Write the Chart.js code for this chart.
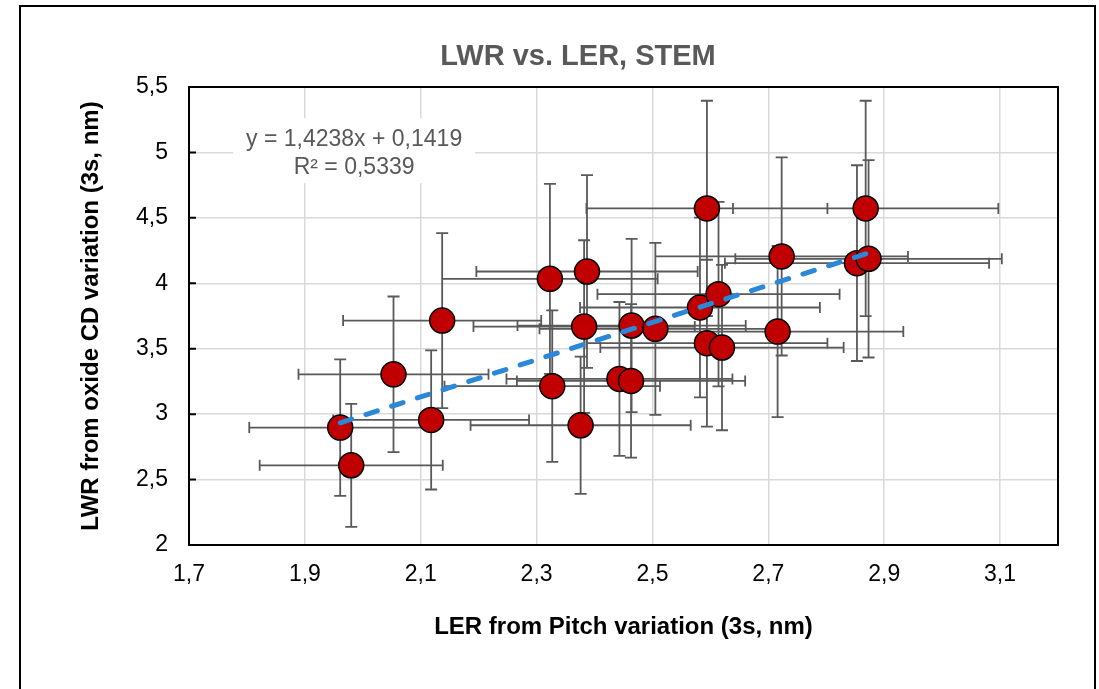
<!DOCTYPE html>
<html>
<head>
<meta charset="utf-8">
<title>LWR vs. LER, STEM</title>
<script src="https://cdn.jsdelivr.net/npm/chart.js@4.4.1/dist/chart.umd.min.js"></script>
<style>
    body { margin: 0; background: #fff; }
    #wrap { position: relative; width: 1099px; height: 689px; overflow: hidden; }
    #frame { position: absolute; left: 19px; top: 5px; width: 1077px; height: 720px; border: 2px solid #000; box-sizing: border-box; }
    canvas { position: absolute; left: 0; top: 0; }
</style>
</head>
<body>
<div id="wrap">
    <div id="frame"></div>
    <canvas id="myChart" width="1099" height="689"></canvas>
</div>
<script>
const ctx = document.getElementById('myChart');

// LER from pitch variation (x) and LWR from oxide CD variation (y), 3s, nm
const ler = [1.961, 1.980, 2.053, 2.118, 2.137, 2.323, 2.327, 2.376, 2.382, 2.387, 2.443, 2.463,
    2.464, 2.505, 2.582, 2.594, 2.594, 2.614, 2.620, 2.716, 2.723, 2.853, 2.868, 2.873];
const lwr = [2.897, 2.609, 3.304, 2.956, 3.715, 4.034, 3.214, 2.915, 3.669, 4.090, 3.269, 3.254,
    3.677, 3.652, 3.815, 4.572, 3.542, 3.917, 3.509, 3.631, 4.205, 4.154, 4.572, 4.187];
// error bar half lengths
const lerErr = [0.157, 0.158, 0.164, 0.169, 0.171, 0.186, 0.186, 0.190, 0.191, 0.191, 0.195, 0.197,
    0.197, 0.200, 0.207, 0.208, 0.208, 0.209, 0.210, 0.217, 0.218, 0.228, 0.229, 0.230];
const lwrErr = [0.521, 0.470, 0.595, 0.532, 0.669, 0.726, 0.579, 0.525, 0.660, 0.736, 0.588, 0.586,
    0.662, 0.657, 0.687, 0.823, 0.638, 0.705, 0.632, 0.654, 0.757, 0.748, 0.823, 0.754];

// linear trend end points
const trendX = [1.961, 2.873];
const trendY = [2.934, 4.232];
const fitText = ['y = 1,4238x + 0,1419', 'R² = 0,5339'];
const fitPos = [1.985, 5.017];

const xTicks = [1.7, 1.9, 2.1, 2.3, 2.5, 2.7, 2.9, 3.1];
const xTickLabels = ['1,7', '1,9', '2,1', '2,3', '2,5', '2,7', '2,9', '3,1'];
const yTicks = [2, 2.5, 3, 3.5, 4, 4.5, 5, 5.5];
const yTickLabels = ['2', '2,5', '3', '3,5', '4', '4,5', '5', '5,5'];

const FONT = '"Liberation Sans", Arial, sans-serif';
const GREY = '#595959';

const points = ler.map((v, i) => ({x: v, y: lwr[i]}));
const trend = trendX.map((v, i) => ({x: v, y: trendY[i]}));

const decor = {
    id: 'decor',
    beforeDatasetsDraw(chart) {
        const c = chart.ctx;
        const a = chart.chartArea;
        const sx = chart.scales.x, sy = chart.scales.y;
        c.save();

        // label of the fit, white box over the grid
        const cx = sx.getPixelForValue(fitPos[0]);
        const cy = sy.getPixelForValue(fitPos[1]);
        c.fillStyle = '#fff';
        c.fillRect(cx - 121, cy - 32, 242, 65);
        c.fillStyle = GREY;
        c.font = '23px ' + FONT;
        c.textAlign = 'center';
        c.textBaseline = 'alphabetic';
        c.fillText(fitText[0], cx, cy - 4.5);
        c.fillText(fitText[1], cx, cy + 23.5);

        // plot border + inside ticks on y
        c.strokeStyle = '#000';
        c.lineWidth = 2;
        c.strokeRect(a.left, a.top, a.right - a.left, a.bottom - a.top);
        c.beginPath();
        yTicks.forEach(v => {
            const py = sy.getPixelForValue(v);
            c.moveTo(a.left, py);
            c.lineTo(a.left + 7, py);
        });
        c.stroke();

        // error bars
        c.strokeStyle = GREY;
        c.lineWidth = 1.8;
        c.beginPath();
        ler.forEach((v, i) => {
            const px = sx.getPixelForValue(v);
            const py = sy.getPixelForValue(lwr[i]);
            const x0 = sx.getPixelForValue(v - lerErr[i]);
            const x1 = sx.getPixelForValue(v + lerErr[i]);
            const y0 = sy.getPixelForValue(lwr[i] - lwrErr[i]);
            const y1 = sy.getPixelForValue(lwr[i] + lwrErr[i]);
            c.moveTo(x0, py); c.lineTo(x1, py);
            c.moveTo(x0, py - 5.5); c.lineTo(x0, py + 5.5);
            c.moveTo(x1, py - 5.5); c.lineTo(x1, py + 5.5);
            c.moveTo(px, y0); c.lineTo(px, y1);
            c.moveTo(px - 6, y0); c.lineTo(px + 6, y0);
            c.moveTo(px - 6, y1); c.lineTo(px + 6, y1);
        });
        c.stroke();
        c.restore();
    },
    afterDraw(chart) {
        const c = chart.ctx;
        c.save();
        c.fillStyle = GREY;
        c.font = 'bold 29px ' + FONT;
        c.textAlign = 'center';
        c.textBaseline = 'alphabetic';
        c.fillText('LWR vs. LER, STEM', 578, 65);
        c.restore();
    }
};

const chart = new Chart(ctx, {
    type: 'scatter',
    plugins: [decor],
    data: {
        datasets: [
            {
                label: 'trend',
                data: trend,
                showLine: true,
                pointRadius: 0,
                borderColor: '#2B88D8',
                borderWidth: 5,
                borderDash: [12, 15],
                borderCapStyle: 'round',
            },
            {
                label: 'STEM',
                data: points,
                pointRadius: 12.5,
                pointBackgroundColor: '#C00000',
                pointBorderColor: '#000',
                pointBorderWidth: 1.5,
            },
        ],
    },
    options: {
        responsive: false,
        devicePixelRatio: 1,
        animation: false,
        layout: { padding: { left: 20, right: 41, top: 87, bottom: 20 } },
        plugins: {
            legend: { display: false },
            tooltip: { enabled: false },
        },
        scales: {
            x: {
                type: 'linear',
                min: 1.7,
                max: 3.2,
                afterBuildTicks: s => { s.ticks = xTicks.map(v => ({value: v})); },
                afterFit: s => { s.height = 124; },
                ticks: {
                    callback: (v, i) => xTickLabels[i],
                    color: '#000',
                    font: { family: FONT, size: 23 },
                    padding: 16,
                },
                grid: { color: '#d9d9d9', lineWidth: 1.5, drawTicks: false },
                border: { display: false },
                title: {
                    display: true,
                    text: 'LER from Pitch variation (3s, nm)',
                    color: '#000',
                    font: { family: FONT, size: 24, weight: 'bold' },
                    padding: { bottom: 27 },
                },
            },
            y: {
                type: 'linear',
                min: 2,
                max: 5.5,
                afterBuildTicks: s => { s.ticks = yTicks.map(v => ({value: v})); },
                afterFit: s => { s.width = 169; },
                ticks: {
                    callback: (v, i) => yTickLabels[i],
                    color: '#000',
                    font: { family: FONT, size: 23 },
                    padding: 21,
                },
                grid: { color: '#d9d9d9', lineWidth: 1.5, drawTicks: false },
                border: { display: false },
                title: {
                    display: true,
                    text: 'LWR from oxide CD variation (3s, nm)',
                    color: '#000',
                    font: { family: FONT, size: 24, weight: 'bold' },
                    padding: { top: 57 },
                },
            },
        },
    },
});
</script>
</body>
</html>
